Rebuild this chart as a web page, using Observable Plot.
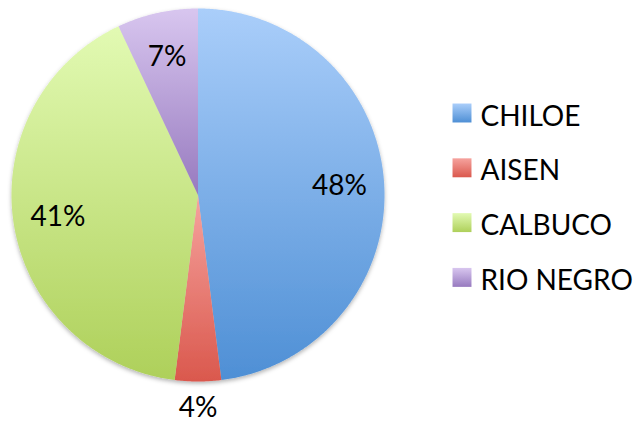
<!DOCTYPE html>
<html>
<head>
<meta charset="utf-8">
<script src="https://cdn.jsdelivr.net/npm/d3@7"></script>
<script src="https://cdn.jsdelivr.net/npm/@observablehq/plot@0.6"></script>
<style>
  html, body { margin: 0; padding: 0; background: #fff; }
  #chart { width: 635px; height: 422px; }
</style>
</head>
<body>
<div id="chart"></div>
<script>
// ---- data ----
const categories = ["CHILOE", "AISEN", "CALBUCO", "RIO NEGRO"];
const values = [48, 4, 41, 7];
const percentLabels = ["48%", "4%", "41%", "7%"];
const colorsTop = ["#aacefa", "#f6a39e", "#e2fab3", "#d8c6ef"];
const colorsBottom = ["#4e8fd5", "#da584d", "#aed05a", "#977abf"];

// ---- layout (pixels) ----
const W = 635, H = 422;
const CX = 197.5, CY = 194.5, R = 186.5;
const FONT = "Lato, 'Open Sans', sans-serif";
const FS = 28;

const xd = px => (px - CX) / R;
const yd = py => (CY - py) / R;

const arcs = d3.pie().sort(null).value(d => d)(values);

const slicePts = [];
arcs.forEach((a, i) => {
  slicePts.push({k: i, x: 0, y: 0});
  const n = Math.ceil((a.endAngle - a.startAngle) / (Math.PI / 360)) + 1;
  for (let j = 0; j <= n; j++) {
    const t = a.startAngle + (a.endAngle - a.startAngle) * j / n;
    slicePts.push({k: i, x: Math.sin(t), y: Math.cos(t)});
  }
  slicePts.push({k: i, x: 0, y: 0});
});

const labelData = arcs.map((a, i) => {
  const m = (a.startAngle + a.endAngle) / 2;
  const f = values[i] < 5 ? 1.14 : 0.76;
  return {text: percentLabels[i], x: f * Math.sin(m), y: f * Math.cos(m)};
});

const legendData = categories.map((c, i) => ({
  name: c, k: i,
  sx: xd(461.5), sy: yd(112.5 + i * 54.8),
  tx: xd(480), ty: yd(125 + i * 54.8)
}));

const defsMark = () => {
  const defs = d3.create("svg:defs");
  colorsTop.forEach((c, i) => {
    const g = defs.append("linearGradient")
      .attr("id", "grad" + i)
      .attr("x1", 0).attr("y1", 0).attr("x2", 0).attr("y2", 1);
    g.append("stop").attr("offset", "0%").attr("stop-color", c);
    g.append("stop").attr("offset", "100%").attr("stop-color", colorsBottom[i]);
  });
  const f = defs.append("filter").attr("id", "shadow")
    .attr("x", "-10%").attr("y", "-10%").attr("width", "120%").attr("height", "120%");
  f.append("feDropShadow").attr("dx", 0).attr("dy", 2).attr("stdDeviation", 2)
    .attr("flood-color", "#000").attr("flood-opacity", 0.3);
  return defs.node();
};

const plot = Plot.plot({
  width: W, height: H,
  margin: 0,
  x: {domain: [xd(0), xd(W)], axis: null},
  y: {domain: [yd(H), yd(0)], axis: null},
  style: {fontFamily: FONT, background: "#fff"},
  marks: [
    defsMark,
    Plot.line(slicePts, {
      x: "x", y: "y", z: "k",
      fill: d => `url(#grad${d.k})`,
      stroke: "none",
      curve: "linear"
    }),
    Plot.text(labelData, {
      x: "x", y: "y", text: "text",
      fontSize: FS, fill: "#000", fontFamily: FONT
    }),
    Plot.dot(legendData, {
      x: "sx", y: "sy", symbol: "square", r: 10.7,
      fill: d => `url(#grad${d.k})`, stroke: "none"
    }),
    Plot.text(legendData, {
      x: "tx", y: "ty", text: "name", textAnchor: "start", lineAnchor: "bottom",
      fontSize: FS, fill: "#000", fontFamily: FONT
    })
  ]
});

const lineG = plot.querySelector('g[aria-label="line"]');
if (lineG) lineG.setAttribute("filter", "url(#shadow)");

document.getElementById("chart").appendChild(plot);
</script>
</body>
</html>
